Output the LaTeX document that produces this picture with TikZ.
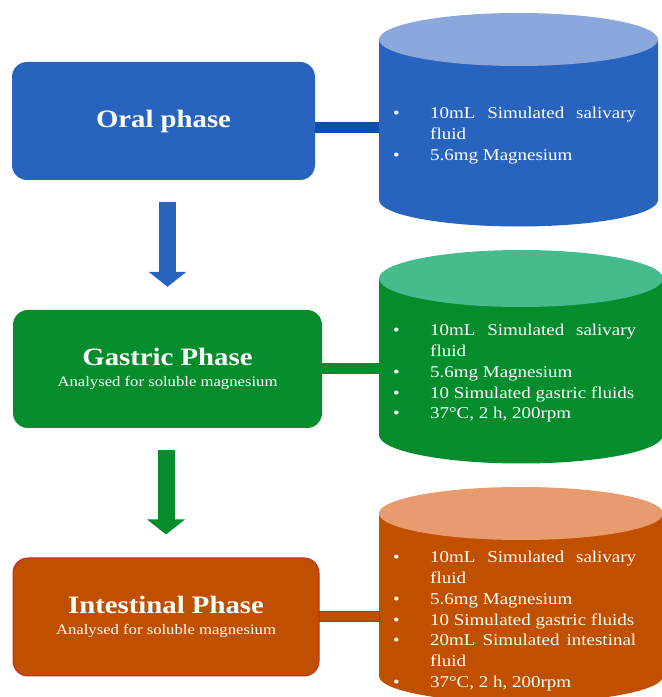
\documentclass[tikz,border=0pt]{standalone}
\usepackage{fontspec}
\setmainfont{Liberation Serif}[FakeStretch=1.15]
\usetikzlibrary{arrows.meta, positioning}
\definecolor{cOral}{RGB}{40,100,190}
\definecolor{cOralTop}{RGB}{138,168,220}
\definecolor{cOralLink}{RGB}{12,80,170}
\definecolor{cGastric}{RGB}{5,140,45}
\definecolor{cGastricTop}{RGB}{70,188,140}
\definecolor{cIntest}{RGB}{192,80,0}
\definecolor{cIntestTop}{RGB}{232,155,110}
\definecolor{cIntestEdge}{RGB}{200,40,45}
\newcommand{\titlefont}{\fontsize{25}{30}\selectfont\bfseries}
\newcommand{\subfont}{\fontsize{14.5}{17}\selectfont}
\newcommand{\litem}[1]{\par\noindent\hangindent=37pt\hangafter=1\makebox[37pt][l]{\textbullet}#1}
% tank: x1, x2, y top, y bottom, y radius, body colour, lid colour
\newcommand{\tank}[7]{%
	\fill[#6] (#1,#3) -- (#1,#4) arc[start angle=180, end angle=360, x radius={(#2-#1)/2}, y radius=#5] -- (#2,#3) -- cycle;
	\fill[#7] ({(#1+#2)/2},#3) ellipse[x radius={(#2-#1)/2}, y radius=#5];}
\tikzset{
	phase/.style    ={rectangle, rounded corners=15pt, minimum width=306pt, minimum height=118pt, text=white, align=center, inner sep=0pt},
	list/.style     ={text width=243pt, align=justify, text=white, inner sep=0pt, anchor=base west, font=\fontsize{16.5}{20.8}\selectfont},
	flowarrow/.style={-{Triangle[width=37pt, length=15pt]}, line width=17pt},
	link/.style     ={line width=11pt},
}
\begin{document}
\begin{tikzpicture}[x=1pt, y=1pt]
	\useasboundingbox (0,0) rectangle (662,697);
	\clip (0,0) rectangle (662,697);
	% tanks
	\tank{379}{658}{657.5}{497}{26.5}{cOral}{cOralTop}
	\tank{379}{663}{418.5}{262}{28.5}{cGastric}{cGastricTop}
	\tank{379}{663}{183.5}{21}{26.5}{cIntest}{cIntestTop}
	\coordinate (tankA) at (379,569.5);
	\coordinate (tankB) at (379,328);
	\coordinate (tankC) at (379,80);
	% phases
	\node[phase, minimum width=303pt, fill=cOral] (oral) at (163.5,576) {\titlefont Oral phase};
	\node[phase, minimum width=309pt, fill=cGastric] (gastric) at (167.5,328) {{\titlefont Gastric Phase}\\[9pt]{\subfont Analysed for soluble magnesium}};
	\node[phase, draw=cIntestEdge, line width=1pt, fill=cIntest] (intestinal) at (166,80) {{\titlefont Intestinal Phase}\\[9pt]{\subfont Analysed for soluble magnesium}};
	% links to tanks
	\draw[link, cOralLink] (tankA -| oral.east) -- (tankA);
	\draw[link, cGastric] (tankB -| gastric.east) -- (tankB);
	\draw[fill=cIntest, draw=cIntestEdge, line width=1pt] ([yshift=5pt]tankC -| intestinal.east) rectangle ([yshift=-5pt]tankC);
	% arrows
	\draw[flowarrow, cOral] (gastric.north |- oral.south) ++(0,-22) -- ([yshift=23pt]gastric.north);
	\draw[flowarrow, cGastric] (intestinal.north |- gastric.south) ++(0,-22) -- ([yshift=23pt]intestinal.north);
	% contents
	\node[list] (oralList) at (393,599) {\litem{10mL Simulated salivary fluid}\litem{5.6mg Magnesium}};
	\node[list] (gastricList) at (393,382) {\litem{10mL Simulated salivary fluid}\litem{5.6mg Magnesium}\litem{10 Simulated gastric fluids}\litem{37°C, 2 h, 200rpm}};
	\node[list] (intestList) at (393,155) {\litem{10mL Simulated salivary fluid}\litem{5.6mg Magnesium}\litem{10 Simulated gastric fluids}\litem{20mL Simulated intestinal fluid}\litem{37°C, 2 h, 200rpm}};
\end{tikzpicture}
\end{document}
